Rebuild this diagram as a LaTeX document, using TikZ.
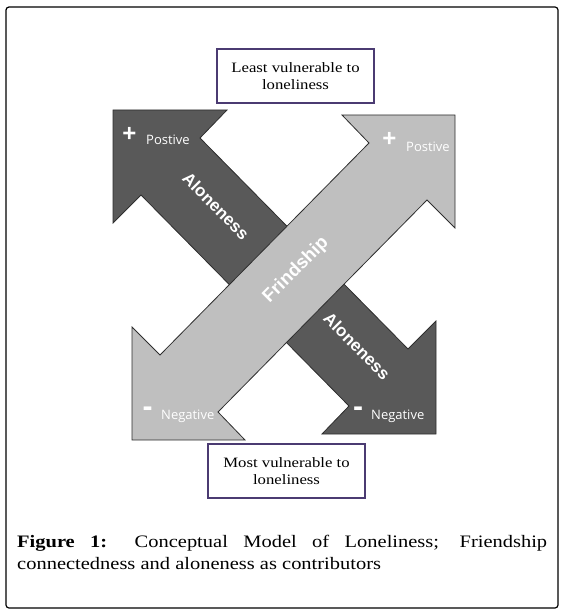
\documentclass[tikz,border=0pt]{standalone}
\usepackage{fontspec}
\setmainfont{Liberation Serif}[FakeStretch=1.17]
\newfontfamily\arrowfont{Liberation Sans}
\newfontfamily\labfont{Open Sans}
\definecolor{darkarrow}{HTML}{595959}
\definecolor{lightarrow}{HTML}{BFBFBF}
\definecolor{boxpurple}{HTML}{4B3B72}
\definecolor{edgegray}{HTML}{2E2E2E}
\tikzset{
  arrowshape/.style={draw=edgegray, line width=0.8pt, line join=miter},
  arrowtext/.style={text=white, font=\arrowfont\bfseries\fontsize{17}{17}\selectfont, inner sep=0pt},
  poletext/.style={text=white, font=\labfont\fontsize{13}{13}\selectfont, inner sep=0pt},
  signtext/.style={text=white, font=\arrowfont\bfseries\fontsize{24}{24}\selectfont, inner sep=0pt},
  minustext/.style={text=white, font=\arrowfont\bfseries\fontsize{30}{30}\selectfont, inner sep=0pt},
  vulnbox/.style={draw=boxpurple, line width=1.8pt, fill=white, minimum width=157pt, minimum height=54pt, align=center, inner sep=0pt, font=\fontsize{14.3}{17.7}\selectfont},
  captext/.style={inner sep=0pt, anchor=base west, font=\fontsize{17.5}{22}\selectfont}
}
\begin{document}
\begin{tikzpicture}[x=1pt,y=-1pt]
\useasboundingbox (0,0) rectangle (565,615);
% outer frame
\draw[line width=1.2pt, rounded corners=3pt] (6,7) rectangle (558,608);
% Aloneness arrow (dark)
\fill[darkarrow, arrowshape] (113,110) -- (227,110) -- (200,138) -- (408,349) -- (436,321) -- (436,434) -- (322,434) -- (349,406) -- (141,195) -- (113,223) -- cycle;
% Friendship arrow (light), on top
\fill[lightarrow, arrowshape] (455,115) -- (342,115) -- (369,143) -- (160,355) -- (132,327) -- (132,440) -- (245,440) -- (218,412) -- (427,200) -- (455,228) -- cycle;
% arrow labels
\node[arrowtext, rotate=-45] (alone1) at (216,206) {Aloneness};
\node[arrowtext, rotate=-45] (alone2) at (357,346) {Aloneness};
\node[arrowtext, rotate=45, font=\arrowfont\bfseries\fontsize{18.5}{18.5}\selectfont] (friend) at (296,270) {Frindship};
% pole labels
\node[signtext] (plus1) at (129.5,134) {+};
\node[poletext, anchor=west] (pos1) at (146,140) {Postive};
\node[signtext] (plus2) at (389.5,139) {+};
\node[poletext, anchor=west] (pos2) at (406,147) {Postive};
\node[minustext] (minus1) at (147.5,412) {-};
\node[poletext, anchor=west] (neg1) at (161,416.5) {Negative};
\node[minustext] (minus2) at (358,412) {-};
\node[poletext, anchor=west] (neg2) at (371,416.5) {Negative};
% boxes
\node[vulnbox] (least) at (295.5,76) {Least vulnerable to\\loneliness};
\node[vulnbox] (most) at (286.5,471) {Most vulnerable to\\loneliness};
% caption
\node[captext] (cap1) at (17,547) {\makebox[530pt][s]{\textbf{Figure 1:} Conceptual Model of Loneliness; Friendship}};
\node[captext] (cap2) at (17,569) {connectedness and aloneness as contributors};
\end{tikzpicture}
\end{document}
